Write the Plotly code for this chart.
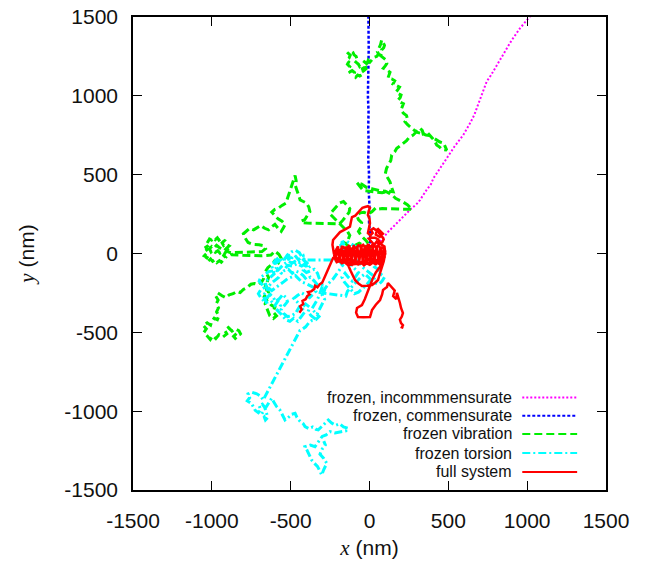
import plotly.graph_objects as go

# ---------------- data (nm) ----------------
incomm_x = [0, 30, 77, 120, 151, 200, 260, 300, 320, 360, 390, 405, 450, 490, 540, 595, 640, 665, 680, 710, 743, 770, 800, 850, 900, 954, 1000, 1029, 1100]
incomm_y = [0, 40, 86, 140, 170, 220, 280, 315, 339, 400, 440, 477, 540, 604, 680, 752, 830, 880, 921, 1000, 1090, 1130, 1180, 1260, 1350, 1428, 1480, 1513, 1600]

comm_x = [0, 5, -3, 0, -5, -3, -8, -5, -8, -6, -10, -7, -8, -5, -6, -8, -8]
comm_y = [0, 100, 200, 300, 400, 500, 600, 700, 800, 900, 1000, 1100, 1200, 1300, 1400, 1500, 1600]

# frozen vibration trajectory, (x, y) points in nm
vib_pts = [
    (-845, -545), (-862, -525), (-840, -505), (-815, -515), (-828, -490), (-850, -478), (-872, -492), (-895, -470),
    (-918, -488), (-905, -510), (-930, -530), (-955, -515), (-975, -540), (-995, -522), (-1010, -545), (-1030, -520),
    (-1050, -500), (-1035, -478), (-1055, -455), (-1030, -440), (-1008, -455), (-1000, -430), (-985, -410), (-965, -420),
    (-955, -395), (-970, -370), (-958, -345), (-972, -320), (-960, -295), (-975, -270), (-962, -250),
    (-935, -268), (-912, -280), (-890, -262), (-865, -255), (-840, -240), (-820, -248), (-800, -228), (-775, -215),
    (-752, -195), (-730, -190), (-705, -198), (-685, -182), (-672, -160),
    (-662, -195), (-650, -240), (-668, -275), (-645, -300), (-625, -325), (-600, -340), (-612, -370), (-590, -395),
    (-610, -412), (-632, -395), (-648, -360), (-662, -320), (-640, -250), (-655, -200), (-640, -150), (-662, -118),
    (-645, -90), (-620, -70), (-600, -45), (-578, -60), (-560, -30), (-575, -5), (-600, 15), (-625, -10),
    (-690, -15), (-760, -12), (-840, -10), (-872, -8),
    (-895, 20), (-905, 35), (-890, 48), (-910, 60), (-925, 50), (-935, 68), (-920, 82), (-940, 95), (-955, 85),
    (-965, 100), (-978, 88), (-990, 100), (-1002, 85), (-1015, 92), (-1025, 75), (-1010, 65), (-1022, 50),
    (-1038, 40), (-1030, 25), (-1045, 12), (-1035, -2), (-1048, -15), (-1030, -25), (-1040, -40), (-1022, -48),
    (-1008, -35), (-995, -50), (-980, -40), (-968, -58), (-952, -45), (-940, -55), (-925, -40), (-912, -25),
    (-925, -12), (-915, 5), (-932, 15), (-948, 2), (-962, 18), (-978, 8), (-992, 22), (-1005, 10), (-1015, 30),
    (-1000, 45), (-985, 35), (-970, 52), (-955, 40), (-940, 30), (-925, 38), (-910, 22), (-895, 10), (-880, 5),
    (-800, 8), (-720, 10), (-682, 12), (-660, 30), (-675, 50), (-700, 55), (-740, 58), (-770, 70),
    (-790, 100), (-800, 125), (-780, 140), (-760, 160), (-735, 150), (-710, 165), (-690, 178), (-665, 160),
    (-640, 150), (-620, 170), (-600, 185), (-580, 160), (-560, 140), (-545, 165), (-535, 185), (-555, 205),
    (-580, 220), (-600, 240), (-620, 262), (-600, 280), (-575, 290), (-555, 305), (-530, 320), (-520, 350),
    (-510, 380), (-500, 410), (-490, 440), (-480, 470), (-472, 495), (-465, 460), (-470, 430), (-460, 400),
    (-450, 370), (-440, 340), (-420, 330), (-400, 320), (-385, 295), (-378, 265), (-395, 240), (-410, 215),
    (-435, 205), (-420, 195), (-395, 193),
    (-300, 192), (-220, 190), (-190, 188),
    (-170, 210), (-150, 235), (-130, 260), (-125, 285), (-145, 305), (-165, 330), (-190, 320), (-210, 300),
    (-230, 275), (-250, 250), (-230, 230), (-205, 205), (-180, 180), (-160, 160), (-140, 140), (-125, 115),
    (-135, 90), (-155, 70), (-140, 50), (-115, 40), (-90, 55), (-65, 65), (-40, 50), (-15, 40), (10, 35),
    (-20, 80), (-50, 110), (-70, 140), (-55, 165), (-50, 195), (-70, 215), (-80, 240), (-60, 258), (-35, 262),
    (-10, 250), (15, 265), (40, 290), (60, 282), (80, 285), (180, 282), (270, 280), (255, 295), (240, 310),
    (215, 325), (190, 340), (165, 350), (150, 365), (130, 380), (100, 395), (60, 400), (20, 410), (-20, 420),
    (-50, 440), (-80, 450), (-60, 425), (-40, 400), (0, 395), (40, 390), (80, 385), (120, 395), (150, 392),
    (140, 420), (130, 455), (115, 480), (100, 505),
    (108, 540), (120, 565), (135, 590), (141, 625), (160, 645), (173, 667), (190, 680), (212, 701), (235, 715),
    (250, 735), (278, 752), (300, 775), (320, 796), (335, 780), (340, 760), (363, 772), (385, 750), (400, 730),
    (415, 710), (426, 688), (445, 675), (460, 660), (490, 656), (480, 680), (470, 700), (447, 707), (425, 720),
    (400, 740), (380, 748), (358, 752), (330, 762), (300, 770), (280, 785), (260, 800), (240, 818), (225, 836),
    (240, 855), (235, 875), (215, 890), (200, 910), (210, 930), (215, 950), (195, 960), (181, 973), (195, 990),
    (200, 1005), (180, 1015), (168, 1024), (180, 1040), (190, 1055), (170, 1065), (149, 1075), (160, 1095),
    (140, 1108), (117, 1113), (125, 1135), (130, 1150), (110, 1165), (88, 1175), (100, 1190), (110, 1205),
    (105, 1227), (85, 1240), (70, 1255), (80, 1275), (77, 1291), (90, 1305), (95, 1320), (85, 1340), (77, 1354),
    (70, 1325), (60, 1300), (50, 1280), (58, 1265), (45, 1250), (30, 1245), (18, 1228), (3, 1214), (-8, 1225),
    (-15, 1205), (-28, 1190), (-22, 1172), (-35, 1160), (-50, 1150), (-45, 1135), (-62, 1125), (-75, 1132),
    (-88, 1118), (-100, 1130), (-95, 1148), (-110, 1160), (-125, 1152), (-135, 1170), (-125, 1185), (-140, 1200),
    (-132, 1215), (-145, 1228), (-130, 1240), (-122, 1258), (-135, 1270), (-118, 1285), (-105, 1275), (-98, 1260),
    (-85, 1250), (-80, 1235), (-95, 1222), (-82, 1210), (-70, 1200), (-62, 1185), (-50, 1195), (-40, 1180),
    (-48, 1165), (-30, 1170), (-20, 1185), (-10, 1195), (-25, 1210), (-40, 1222),
]

# frozen torsion trajectory
tors_pts = [
    (0, 0), (-25, -20), (-50, 5), (-80, -10), (-100, 20), (-130, 35), (-155, 55), (-180, 70), (-150, 80),
    (-120, 60), (-90, 45), (-60, 30), (-40, -10), (-15, -40), (10, -60), (30, -85), (55, -100), (70, -130),
    (95, -150), (80, -175), (60, -195), (30, -185), (5, -170), (-20, -200), (-45, -225), (-70, -245), (-95, -255),
    (-115, -230), (-135, -205), (-160, -180), (-175, -150), (-155, -125), (-135, -150), (-110, -175), (-90, -150),
    (-70, -120), (-95, -95), (-120, -70), (-140, -40), (-165, -20), (-190, 0), (-205, 30), (-185, 50), (-160, 25),
    (-135, 5), (-110, -15), (-85, -40), (-60, -65), (-40, -90), (-15, -110), (10, -130), (35, -150), (20, -175),
    (-5, -150), (-30, -130), (-55, -150), (-80, -175), (-100, -200), (-125, -225), (-140, -240),
    (-150, -270), (-300, -250), (-280, -220), (-260, -190), (-230, -160), (-210, -130), (-190, -100), (-170, -75),
    (-185, -55), (-190, -41),
    (-409, -41), (-430, -20), (-445, 5), (-470, 20), (-495, 10), (-515, -5), (-505, -30), (-530, -45), (-555, -30),
    (-575, -50), (-600, -65), (-590, -90), (-610, -110), (-640, -115), (-665, -135), (-690, -150), (-700, -175),
    (-680, -195), (-665, -215), (-690, -230), (-705, -255), (-690, -280), (-670, -300), (-650, -280), (-630, -260),
    (-610, -280), (-595, -305), (-570, -285), (-550, -260), (-530, -280), (-520, -305), (-540, -330), (-560, -355),
    (-545, -380), (-520, -400), (-495, -395), (-470, -380), (-455, -355), (-440, -330), (-460, -305), (-480, -285),
    (-455, -265), (-430, -250), (-405, -265), (-380, -280), (-360, -260), (-340, -240), (-355, -215), (-380, -200),
    (-405, -190), (-430, -180), (-450, -160), (-470, -140), (-495, -150), (-520, -160), (-545, -180), (-570, -200),
    (-595, -220), (-620, -235), (-645, -215), (-625, -190), (-600, -170), (-575, -150), (-560, -125), (-585, -110),
    (-560, -85), (-540, -65), (-515, -50), (-490, -60), (-465, -45), (-440, -60), (-420, -40), (-395, -60),
    (-375, -80), (-395, -95),
    (-420, -15), (-450, -40), (-475, -10), (-500, -35), (-525, -15), (-548, -50), (-575, -25), (-598, -45),
    (-620, -80), (-605, -130), (-640, -160), (-662, -180), (-648, -235), (-675, -265), (-655, -310), (-625, -300),
    (-600, -330), (-580, -300), (-565, -330), (-585, -360), (-560, -385), (-530, -420), (-505, -430), (-480, -410),
    (-455, -430), (-430, -400), (-410, -370), (-430, -345), (-405, -320), (-380, -340), (-390, -370), (-370, -395),
    (-350, -410), (-330, -380), (-315, -350), (-300, -320), (-285, -290), (-300, -265), (-285, -235), (-300, -200),
    (-330, -200), (-350, -175), (-375, -150), (-400, -165), (-420, -140), (-445, -120), (-470, -110), (-490, -125),
    (-515, -100), (-545, -110), (-520, -75), (-490, -80), (-460, -65), (-430, -80), (-400, -60),
    (-420, -105), (-400, -120), (-375, -110), (-350, -100), (-330, -125), (-320, -155),
    (-305, -180), (-300, -210), (-310, -240), (-320, -270), (-335, -300), (-350, -325), (-365, -350), (-345, -375),
    (-320, -400), (-340, -420), (-365, -425), (-385, -440), (-405, -465), (-425, -480), (-441, -488),
    (-674, -929), (-690, -905), (-715, -890), (-745, -880), (-770, -890), (-760, -915), (-775, -935), (-750, -950),
    (-735, -975), (-725, -995), (-705, -1010), (-690, -990), (-700, -965), (-680, -955), (-665, -975), (-655, -1005),
    (-645, -1040), (-660, -1056), (-670, -1030), (-685, -1020), (-650, -960), (-630, -930), (-620, -918),
    (-605, -945), (-590, -970), (-568, -993), (-555, -1020), (-536, -1056), (-515, -1040), (-495, -1020),
    (-472, -1014), (-460, -1040), (-440, -1065), (-420, -1080), (-409, -1098), (-385, -1110), (-360, -1100),
    (-340, -1115), (-325, -1119), (-300, -1095), (-280, -1080), (-261, -1056), (-240, -1075), (-215, -1090),
    (-190, -1080), (-165, -1100), (-134, -1109), (-150, -1125), (-180, -1130), (-219, -1138), (-250, -1130),
    (-275, -1150), (-300, -1160), (-320, -1185), (-346, -1225), (-375, -1215), (-409, -1225), (-395, -1250),
    (-380, -1280), (-367, -1310), (-350, -1330), (-330, -1350), (-315, -1380), (-303, -1405), (-290, -1370),
    (-275, -1345), (-271, -1331), (-290, -1300), (-314, -1273), (-300, -1240), (-280, -1215), (-290, -1190),
]

# full system trajectory
full_pts = [
    (-445, -375), (-430, -355), (-440, -335), (-420, -320), (-425, -300), (-405, -290), (-395, -270), (-380, -260),
    (-390, -245), (-370, -240), (-350, -225), (-345, -205), (-330, -215), (-315, -195), (-300, -185), (-285, -150),
    (-270, -117), (-255, -80), (-240, -50), (-231, -29),
    (-210, -10), (-198, 12), (-180, -5), (-170, 18), (-152, 8), (-140, 28), (-122, 12), (-108, 30), (-95, 5),
    (-80, 22), (-62, 8), (-50, 30), (-35, 12), (-20, 28), (-5, 5), (10, 20), (25, 0), (38, 18), (55, -8), (70, 12),
    (85, -5), (95, -25), (78, -40), (62, -25), (45, -48), (28, -30), (12, -55), (-5, -38), (-22, -58), (-38, -40),
    (-55, -62), (-68, -45), (-85, -62), (-98, -42), (-115, -58), (-128, -38), (-145, -52), (-160, -32), (-178, -45),
    (-192, -25), (-205, -38), (-215, -15), (-200, 5), (-185, 25), (-168, 42), (-150, 30), (-132, 48), (-118, 25),
    (-100, 42), (-82, 35), (-70, 52), (-55, 40), (-40, 55), (-25, 38), (-10, 55), (5, 42), (22, 58), (38, 40),
    (55, 52), (70, 30), (88, 38), (100, 15), (92, -8), (75, -18), (58, -52), (40, -68), (20, -58), (2, -72),
    (-18, -62), (-35, -75), (-52, -58), (-72, -70), (-90, -55), (-108, -72), (-125, -58), (-140, -70), (-158, -55),
    (-175, -62), (-190, -48), (-208, -55), (-220, -30), (-225, -5),
    (-200, 45), (-190, -50), (-175, 50), (-165, -55), (-150, 45), (-140, -60), (-128, 52), (-115, -50), (-100, 55),
    (-90, -65), (-78, 48), (-65, -55), (-52, 58), (-42, -65), (-30, 50), (-18, -70), (-5, 60), (8, -62), (20, 48),
    (32, -55), (45, 45), (58, -40), (70, 45), (82, -30), (92, 30), (100, -10), (85, 10), (60, 0), (30, 10),
    (0, -10), (-30, 5), (-60, -10), (-90, 10), (-120, -15), (-150, 5), (-180, -10), (-210, 15), (-225, -5),
    (-231, 22), (-235, 55), (-231, 86), (-210, 110), (-187, 136), (-160, 150), (-124, 170), (-118, 200), (-111, 231),
    (-90, 240), (-75, 255), (-60, 276), (-45, 290), (-29, 295), (-10, 300), (3, 289), (-5, 270), (-10, 244), (0, 220),
    (3, 193), (-5, 160), (-10, 130), (5, 115), (20, 130), (10, 150), (25, 160), (45, 145), (40, 120), (65, 105),
    (85, 125), (70, 140), (50, 160), (60, 130), (75, 115), (90, 90), (80, 70), (60, 60), (45, 75), (30, 55),
    (15, 75), (-5, 95), (10, 100), (35, 100), (55, 90), (70, 60), (95, 45), (100, 20), (100, 0),
    (85, -30), (80, -50), (60, -65), (40, -55), (0, -60), (-40, -60), (-80, -65), (-110, -70), (-136, -73),
    (-120, -110), (-105, -140), (-92, -168), (-70, -190), (-48, -206), (-15, -205), (16, -200), (35, -185),
    (54, -168), (65, -130), (79, -92), (90, -50), (98, -10), (80, -40), (67, -84), (40, -120), (20, -160),
    (5, -200), (-16, -250), (-30, -290), (-48, -327), (-65, -340), (-79, -346), (-85, -375), (-73, -403),
    (-40, -405), (3, -403), (10, -380), (16, -358), (40, -325), (67, -295), (80, -260), (86, -231), (100, -220),
    (111, -212), (117, -187), (140, -210), (160, -235), (150, -270), (170, -290), (174, -250), (185, -280),
    (193, -314), (200, -345), (212, -377), (205, -400), (193, -420), (200, -441), (212, -455), (205, -468), (215, -472),
]

tick_vals = [-1500, -1000, -500, 0, 500, 1000, 1500]
tick_text = ["-1500", "-1000", "-500", "0", "500", "1000", "1500"]

series_names = ["frozen, incommmensurate", "frozen, commensurate", "frozen vibration", "frozen torsion", "full system"]
series_colors = ["#ff00ff", "#0000ff", "#00ee00", "#00ffff", "#ff0000"]
series_dash = ["2px,2px", "3px,2px", "8px,4px", "8px,3px,2px,3px", "solid"]
series_width = [2, 2.5, 3, 3, 2.5]

vib_x, vib_y = [p[0] for p in vib_pts], [p[1] for p in vib_pts]
tors_x, tors_y = [p[0] for p in tors_pts], [p[1] for p in tors_pts]
full_x, full_y = [p[0] for p in full_pts], [p[1] for p in full_pts]
series_data = [(incomm_x, incomm_y), (comm_x, comm_y), (vib_x, vib_y), (tors_x, tors_y), (full_x, full_y)]

fig = go.Figure()
for (xs, ys), name, col, dash, w in zip(series_data, series_names, series_colors, series_dash, series_width):
    fig.add_trace(go.Scatter(x=xs, y=ys, mode="lines", name=name,
                             line=dict(color=col, dash=dash, width=w), showlegend=False))

# manual legend (gnuplot style: text right-aligned, sample on the right)
leg_text_x = 0.805
leg_line_x0, leg_line_x1 = 0.823, 0.939
leg_rows = [0.1956, 0.1571, 0.1184, 0.0782, 0.0381]
shapes = []
annotations = []
for name, col, dash, yy in zip(series_names, series_colors, series_dash, leg_rows):
    annotations.append(dict(x=leg_text_x, y=yy, xref="paper", yref="paper", text=name, showarrow=False,
                            xanchor="right", yanchor="middle",
                            font=dict(family="Liberation Sans, Arial", size=16, color="#111")))
    shapes.append(dict(type="line", xref="paper", yref="paper", x0=leg_line_x0, x1=leg_line_x1, y0=yy, y1=yy,
                       line=dict(color=col, width=2, dash=dash)))

axis_common = dict(
    range=[-1500, 1500], tickmode="array", tickvals=tick_vals, ticktext=tick_text,
    ticks="inside", ticklen=9, tickwidth=1.2, tickcolor="black",
    showline=True, linecolor="black", linewidth=1.5, mirror="allticks",
    showgrid=False, zeroline=False, automargin=False, ticklabeloverflow="allow",
    tickfont=dict(family="Liberation Sans, Arial", size=21, color="#111"),
)

title_font = dict(family="Liberation Sans, Arial", size=21, color="#111")
fig.update_layout(
    width=649, height=561,
    margin=dict(l=133, r=43, t=17, b=71),
    paper_bgcolor="white", plot_bgcolor="white",
    xaxis=dict(**axis_common, ticklabelstandoff=11,
               title=dict(text="<span style=\"font-family:'Liberation Serif', 'Times New Roman'\"><i>x</i></span> (nm)",
                          font=title_font, standoff=9)),
    yaxis=dict(**axis_common, ticklabelstandoff=9,
               title=dict(text="<span style=\"font-family:'Liberation Serif', 'Times New Roman'\"><i>y</i></span> (nm)",
                          font=title_font, standoff=24)),
    shapes=shapes, annotations=annotations,
)

# remove the browser's default 8px page margin so the figure fills the window exactly
fig.write_html("out.html", config={"displayModeBar": False},
               post_script="document.body.style.margin='0px';document.body.style.overflow='hidden';")
